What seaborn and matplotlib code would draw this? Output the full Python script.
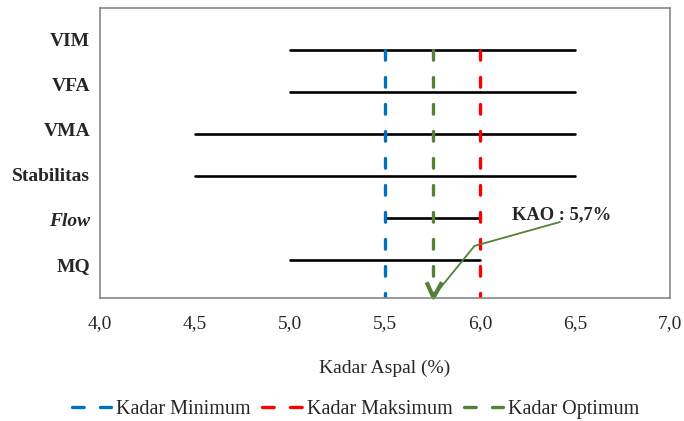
import numpy as np
import pandas as pd
import matplotlib
matplotlib.use("Agg")
import matplotlib.pyplot as plt
import seaborn as sns
from matplotlib.lines import Line2D
from matplotlib.path import Path

# data
params = ['VIM', 'VFA', 'VMA', 'Stabilitas', 'Flow', 'MQ']
kadar_awal = [5.0, 5.0, 4.5, 4.5, 5.5, 5.0]
kadar_akhir = [6.5, 6.5, 6.5, 6.5, 6.0, 6.0]
kadar_min = 5.5
kadar_maks = 6.0
kadar_opt = 5.75
batas = ['Kadar Minimum', 'Kadar Maksimum', 'Kadar Optimum']
batas_nilai = [kadar_min, kadar_maks, kadar_opt]
batas_warna = ['#0070C0', '#FF0000', '#548235']
xticks = [4.0, 4.5, 5.0, 5.5, 6.0, 6.5, 7.0]
kao_teks = 'KAO : 5,7%'

sns.set_style('white')
plt.rcParams['font.family'] = ['Liberation Serif', 'DejaVu Serif']

# long form table for the ranges
pos = list(range(len(params), 0, -1))
rows = []
for p, y, a, b in zip(params, pos, kadar_awal, kadar_akhir):
    rows.append({'param': p, 'kadar': a, 'y': y})
    rows.append({'param': p, 'kadar': b, 'y': y})
df = pd.DataFrame(rows)

fig = plt.figure(figsize=(6.84, 4.21), dpi=100)
ax = fig.add_axes([0.146, 0.292, 0.834, 0.689])

sns.lineplot(data=df, x='kadar', y='y', units='param', estimator=None,
             color='black', lw=1.9, sort=False, ax=ax, legend=False)

# vertical dashed limits, drawn top -> bottom so the dashes start at the top
vrows = []
for n, v in zip(batas, batas_nilai):
    vrows.append({'batas': n, 'kadar': v, 'y': max(pos)})
    vrows.append({'batas': n, 'kadar': v, 'y': 0})
dv = pd.DataFrame(vrows)
lw_d = 2.4
for n, c in zip(batas, batas_warna):
    sub = dv[dv['batas'] == n]
    sns.lineplot(data=sub, x='kadar', y='y', color=c, lw=lw_d, sort=False,
                 estimator=None, ax=ax, legend=False)
    ln = ax.lines[-1]
    ln.set_dashes((2.9, 5.2))
    ln.set_dash_capstyle('round')

ax.set_xlim(4.0, 7.0)
ax.set_ylim(0.1, 7.0)
ax.set_xticks(xticks)
ax.set_xticklabels([f'{t:.1f}'.replace('.', ',') for t in xticks], fontsize=14)
ax.tick_params(axis='x', direction='out', length=5, width=1, color='#888888', pad=7)

# category labels sit on their own even spacing like the source chart
lab_pos = np.linspace(6.24, 0.89, len(params))
ax.set_yticks(lab_pos)
ax.set_yticklabels(params, fontsize=14, fontweight='bold')
ax.tick_params(axis='y', length=0, pad=7)
for t in ax.get_yticklabels():
    if t.get_text() == 'Flow':
        t.set_fontstyle('italic')

ax.set_xlabel('Kadar Aspal (%)', fontsize=14, labelpad=20)
ax.set_ylabel('')
for s in ax.spines.values():
    s.set_color('#888888')
    s.set_linewidth(1.2)

# KAO callout: thin leader line ending in an open V at the optimum
ax.plot([6.42, 5.97, kadar_opt + 0.015], [1.91, 1.34, 0.2], color='#548235', lw=1.3)
v_mark = Path([(-0.45, 1.0), (0.0, 0.0), (0.55, 1.0)],
              [Path.MOVETO, Path.LINETO, Path.LINETO])
ax.plot([kadar_opt], [0.13], marker=v_mark, markersize=22, mfc='none',
        mec='#548235', mew=3.0, ls='none', clip_on=False)
ax.text(6.17, 1.97, kao_teks, fontsize=13.3, fontweight='bold', ha='left', va='baseline')

handles = [Line2D([0], [0], color=c, lw=lw_d, dashes=(3.5, 4.9),
                  dash_capstyle='round') for c in batas_warna]
fig.legend(handles, batas, loc='center', bbox_to_anchor=(0.52, 0.028), ncol=3,
           frameon=False, fontsize=14.5, handlelength=1.97, handletextpad=0.25,
           columnspacing=0.55)

fig.savefig('out.png', dpi=100)
